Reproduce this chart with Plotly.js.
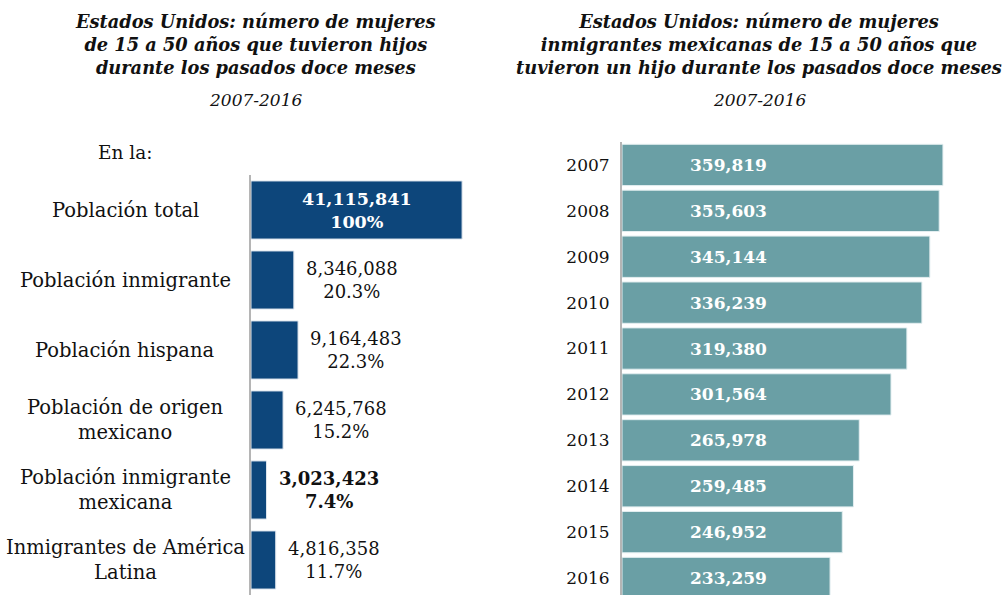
<!DOCTYPE html>
<html>
<head>
<meta charset="utf-8">
<script src="https://cdn.plot.ly/plotly-3.0.1.min.js"></script>
<style>
  html, body { margin: 0; padding: 0; background: #fff; }
  #chart { width: 1006px; height: 595px; }
</style>
</head>
<body>
<div id="chart"></div>
<script>
// left panel: women 15-50 who had children in the last 12 months
const groups = ['Población total', 'Población inmigrante', 'Población hispana',
                'Población de origen<br>mexicano', 'Población inmigrante<br>mexicana',
                'Inmigrantes de América<br>Latina'];
const groupCounts = [41115841, 8346088, 9164483, 6245768, 3023423, 4816358];
const groupPct = ['100%', '20.3%', '22.3%', '15.2%', '7.4%', '11.7%'];

// right panel: mexican immigrant women, by year
const years = ['2007', '2008', '2009', '2010', '2011', '2012', '2013', '2014', '2015', '2016'];
const yearCounts = [359819, 355603, 345144, 336239, 319380, 301564, 265978, 259485, 246952, 233259];

const FONT = 'DejaVu Serif, Liberation Serif, serif';
const W = 1006, H = 595;
const fmt = n => n.toLocaleString('en-US');

const traces = [
  {
    type: 'bar', orientation: 'h',
    x: groupCounts, y: groups,
    xaxis: 'x', yaxis: 'y',
    width: 0.83,
    marker: { color: '#0d467b', line: { color: '#dfe6ee', width: 1 } },
    hoverinfo: 'skip'
  },
  {
    type: 'bar', orientation: 'h',
    x: yearCounts, y: years,
    xaxis: 'x2', yaxis: 'y2',
    width: 0.9,
    marker: { color: '#6a9fa5', line: { color: '#e3eef0', width: 1 } },
    hoverinfo: 'skip'
  }
];

const annotations = [];

// titles
const titleFont = { family: FONT, size: 17.8, color: '#111' };
const titles = [
  { cx: 255, text: 'Estados Unidos: número de mujeres<br>de 15 a 50 años que tuvieron hijos<br>durante los pasados doce meses' },
  { cx: 759, text: 'Estados Unidos: número de mujeres<br>inmigrantes mexicanas de 15 a 50 años que<br>tuvieron un hijo durante los pasados doce meses' }
];
titles.forEach(t => {
  annotations.push({
    xref: 'paper', yref: 'paper', x: t.cx / W, y: 1 - 9 / H, xanchor: 'center', yanchor: 'top',
    showarrow: false, align: 'center', text: '<b><i>' + t.text + '</i></b>',
    font: titleFont
  });
  annotations.push({
    xref: 'paper', yref: 'paper', x: t.cx / W, y: 1 - 100 / H, xanchor: 'center', yanchor: 'middle',
    showarrow: false, text: '<i>2007-2016</i>', font: { family: FONT, size: 17, color: '#111' }
  });
});
annotations.push({
  xref: 'paper', yref: 'paper', x: 125 / W, y: 1 - 152 / H, xanchor: 'center', yanchor: 'middle',
  showarrow: false, text: 'En la:', font: { family: FONT, size: 18.5, color: '#111' }
});

// left category labels and value labels
groups.forEach((g, i) => {
  annotations.push({
    xref: 'paper', yref: 'y', x: 125 / W, y: i, xanchor: 'center', yanchor: 'middle',
    showarrow: false, align: 'center', text: g,
    font: { family: FONT, size: 19.5, color: '#111' }
  });
  const label = fmt(groupCounts[i]) + '<br>' + groupPct[i];
  if (i === 0) {
    annotations.push({
      xref: 'x', yref: 'y', x: groupCounts[i] / 2, y: i, xanchor: 'center', yanchor: 'middle',
      showarrow: false, align: 'center', text: '<b>' + label + '</b>',
      font: { family: FONT, size: 17.5, color: '#fff' }
    });
  } else {
    annotations.push({
      xref: 'x', yref: 'y', x: groupCounts[i], y: i, xanchor: 'left', yanchor: 'middle',
      xshift: 10, showarrow: false, align: 'center',
      text: i === 4 ? '<b>' + label + '</b>' : label,
      font: { family: FONT, size: 18, color: '#111' }
    });
  }
});

// right value labels inside bars
years.forEach((y, i) => {
  annotations.push({
    xref: 'paper', yref: 'y2', x: 688 / W, y: i, xanchor: 'left', yanchor: 'middle',
    showarrow: false, text: '<b>' + fmt(yearCounts[i]) + '</b>',
    font: { family: FONT, size: 17, color: '#fff' }
  });
});

const layout = {
  width: W, height: H,
  margin: { l: 0, r: 0, t: 0, b: 0 },
  paper_bgcolor: '#fff', plot_bgcolor: '#fff',
  showlegend: false,
  xaxis: {
    domain: [251 / W, 500 / W], range: [0, 48.5e6],
    showgrid: false, zeroline: false, showticklabels: false, showline: false
  },
  yaxis: {
    type: 'category',
    domain: [0, 1 - 175 / H], range: [5.5, -0.5],
    showgrid: false, zeroline: false, showticklabels: false,
    showline: true, linecolor: '#b5b5b5', linewidth: 2, anchor: 'x'
  },
  xaxis2: {
    domain: [622 / W, 1], range: [0, 430500], anchor: 'y2',
    showgrid: false, zeroline: false, showticklabels: false, showline: false
  },
  yaxis2: {
    type: 'category',
    domain: [0, 1 - 142 / H], range: [9.37, -0.5], anchor: 'x2',
    showgrid: false, zeroline: false,
    showline: true, linecolor: '#b5b5b5', linewidth: 2,
    ticks: '', ticklabelstandoff: 7,
    tickfont: { family: FONT, size: 17, color: '#111' }
  },
  annotations: annotations
};

Plotly.newPlot('chart', traces, layout, { displayModeBar: false, staticPlot: true });
</script>
</body>
</html>
